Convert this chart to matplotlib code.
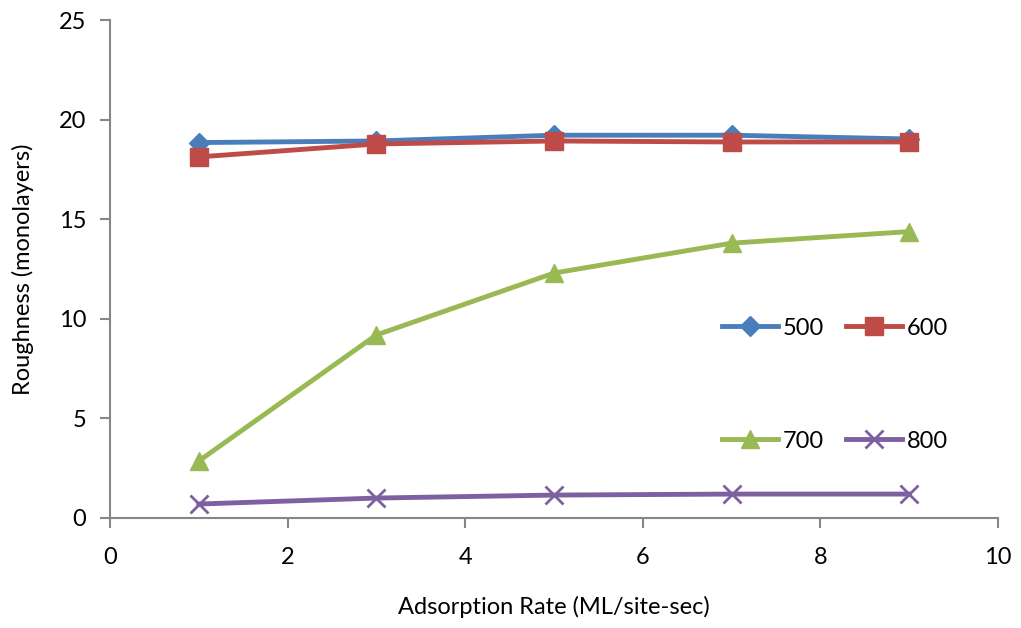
import matplotlib.pyplot as plt

# adsorption rates (ML/site-sec) and roughness for each temperature
rates = [1, 3, 5, 7, 9]
rough_500 = [18.85, 18.93, 19.22, 19.22, 19.03]
rough_600 = [18.13, 18.78, 18.93, 18.88, 18.88]
rough_700 = [2.86, 9.19, 12.3, 13.8, 14.38]
rough_800 = [0.70, 1.0, 1.15, 1.2, 1.2]
series_labels = ['500', '600', '700', '800']

plt.rcParams['font.family'] = ['Lato', 'DejaVu Sans']

fig = plt.figure(figsize=(10.21, 6.28), dpi=100)
ax = fig.add_axes([0.1077, 0.1752, 0.8698, 0.7928])

l500, = ax.plot(rates, rough_500, color='#4A7EBB', lw=3.5, marker='D', ms=10, label=series_labels[0])
l600, = ax.plot(rates, rough_600, color='#BE4B48', lw=3.5, marker='s', ms=13, label=series_labels[1])
l700, = ax.plot(rates, rough_700, color='#98B954', lw=3.5, marker='^', ms=13, label=series_labels[2])
l800, = ax.plot(rates, rough_800, color='#7D60A0', lw=3.5, marker='x', ms=13, mew=2, label=series_labels[3])

ax.set_xlim(0, 10)
ax.set_ylim(0, 25)
ax.set_xticks(range(0, 11, 2))
ax.set_yticks(range(0, 26, 5))

for side in ['top', 'right']:
    ax.spines[side].set_visible(False)
for side in ['left', 'bottom']:
    ax.spines[side].set_color('#868686')
    ax.spines[side].set_linewidth(1.5)
ax.tick_params(colors='#868686', width=1.5, length=7, labelcolor='black',
               labelsize=17, pad=10)
ax.tick_params(axis='x', pad=14)

ax.set_xlabel('Adsorption Rate (ML/site-sec)', fontsize=17, labelpad=20)
ax.set_ylabel('Roughness (monolayers)', fontsize=17, labelpad=18)

# legend filled column-wise, so order handles to read 500 600 / 700 800 by row
handles = [l500, l700, l600, l800]
ax.legend(handles, [h.get_label() for h in handles], ncol=2, frameon=False,
          fontsize=17, loc='upper left', bbox_to_anchor=(0.665, 0.445),
          handlelength=2.4, labelspacing=3.9, columnspacing=0.9,
          handletextpad=0.2)

fig.savefig('out.png', dpi=100)
